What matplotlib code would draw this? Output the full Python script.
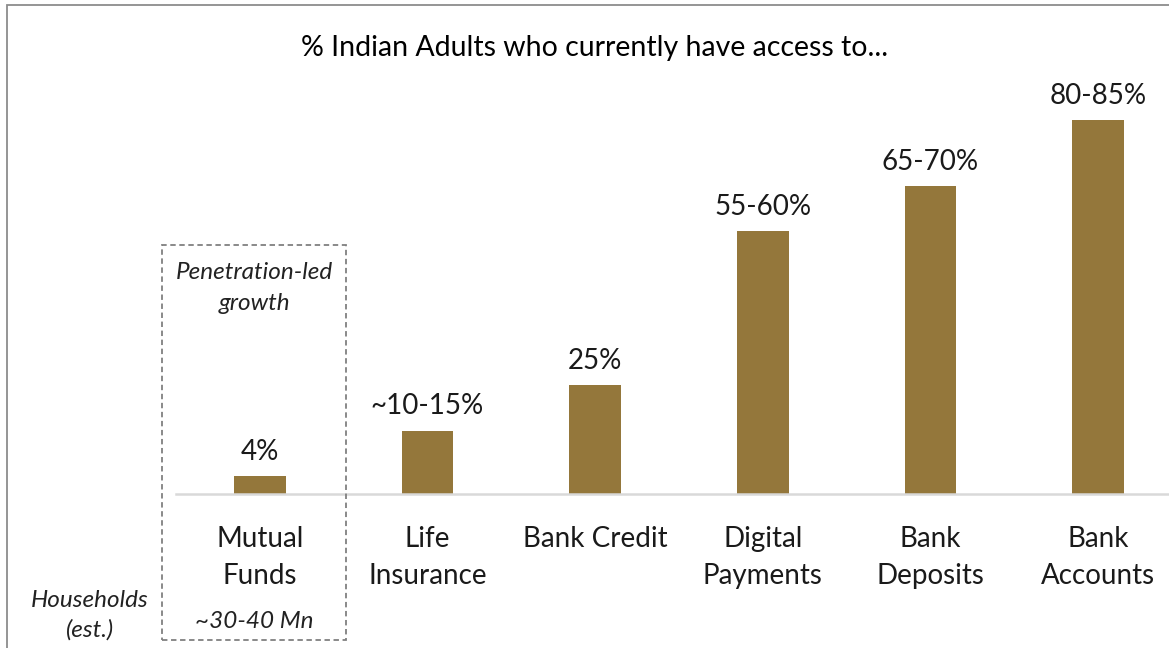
import matplotlib
matplotlib.use("Agg")
import matplotlib.pyplot as plt
from matplotlib.patches import Rectangle

# data
categories = ["Mutual\nFunds", "Life\nInsurance", "Bank Credit", "Digital\nPayments",
              "Bank\nDeposits", "Bank\nAccounts"]
values = [4, 14, 24, 58, 68, 82.5]
value_labels = ["4%", "~10-15%", "25%", "55-60%", "65-70%", "80-85%"]

bar_color = "#94773B"
W, H = 1169, 648

plt.rcParams['font.family'] = ['Lato', 'DejaVu Sans']

fig = plt.figure(figsize=(W / 100, H / 100), dpi=100)

# axes placed in pixel terms (baseline at y=494, first bar centre x=260)
ax = fig.add_axes([176 / W, (H - 494) / H, 1006 / W, 408 / H])
x = range(len(categories))
ax.bar(x, values, width=0.31, color=bar_color, zorder=2)
ax.set_xlim(-0.5, len(categories) - 0.5)
ax.set_ylim(0, 90)

for xi, v, lab in zip(x, values, value_labels):
    ax.annotate(lab, (xi, v), xytext=(0, 8), textcoords="offset points",
                ha="center", va="bottom", fontsize=20, color="#1a1a1a")

ax.set_xticks(list(x))
ax.set_xticklabels(categories, fontsize=20, color="#1a1a1a", linespacing=1.55)
ax.tick_params(axis="x", length=0, pad=23)
ax.set_yticks([])
for s in ["top", "right", "left"]:
    ax.spines[s].set_visible(False)
ax.spines["bottom"].set_color("#d9d9d9")
ax.spines["bottom"].set_linewidth(1.8)

# title
fig.text(595 / W, 1 - 48 / H, "% Indian Adults who currently have access to...",
         ha="center", va="center", fontsize=20.5, color="#000000")

# dashed highlight box around mutual funds
box = Rectangle((162 / W, 1 - 640 / H), (346 - 162) / W, (640 - 245) / H,
                transform=fig.transFigure, fill=False, edgecolor="#808080",
                linestyle=(0, (3, 2)), linewidth=1.3, clip_on=False)
fig.add_artist(box)
fig.text(254 / W, 1 - 288 / H, "Penetration-led\ngrowth", ha="center", va="center",
         fontsize=17.5, style="italic", color="#222222", linespacing=1.6)
fig.text(254 / W, 1 - 622 / H, "~30-40 Mn", ha="center", va="center",
         fontsize=17.5, style="italic", color="#222222")
fig.text(90 / W, 1 - 615 / H, "Households\n(est.)", ha="center", va="center",
         fontsize=17.5, style="italic", color="#222222", linespacing=1.45)

# outer frame (left and top edges visible)
frame = Rectangle((7 / W, -0.05), 1.1, (H - 5) / H + 0.05,
                  transform=fig.transFigure, fill=False, edgecolor="#8c8c8c",
                  linewidth=1.3, clip_on=False)
fig.add_artist(frame)

fig.savefig("out.png", dpi=100)
